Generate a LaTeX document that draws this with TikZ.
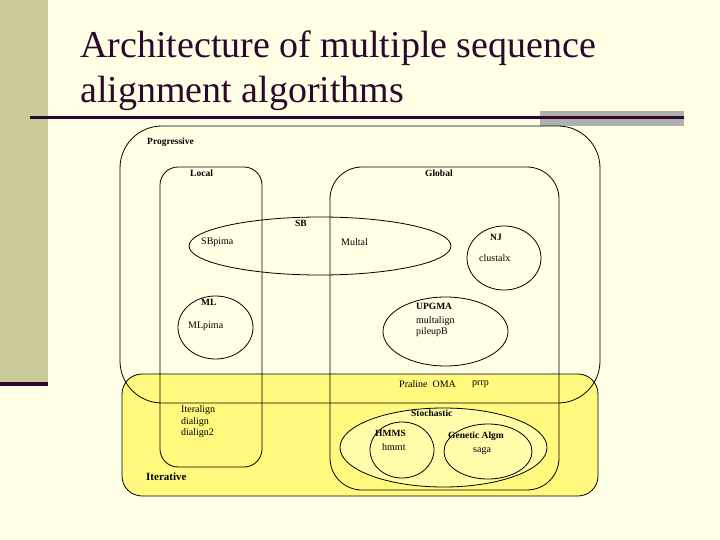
\documentclass[tikz,border=0pt]{standalone}
\usepackage{fontspec}
\setmainfont{Liberation Serif}
\usetikzlibrary{shapes.geometric}
\definecolor{bgc}{RGB}{255,255,229}
\definecolor{stripe}{RGB}{202,201,152}
\definecolor{darkplum}{RGB}{45,8,45}
\definecolor{graybar}{RGB}{176,176,176}
\definecolor{iterfill}{RGB}{255,250,125}
\definecolor{stochfill}{RGB}{255,253,170}
\begin{document}
\begin{tikzpicture}[x=1pt,y=-1pt,
  region/.style={draw=black, line width=0.8pt, rectangle, rounded corners=#1, inner sep=0},
  setshape/.style={draw=black, ellipse, line width=0.8pt, inner sep=0},
  lbl/.style={font=\fontsize{10}{11}\selectfont, anchor=west, inner sep=0},
  blbl/.style={font=\fontsize{9.5}{11}\selectfont\bfseries, anchor=west, inner sep=0},
  titlestyle/.style={font=\fontsize{38}{45}\selectfont, text=darkplum, anchor=base west, inner sep=0}
]
\fill[bgc] (0,0) rectangle (720,540);
\useasboundingbox (0,0) rectangle (720,540);
\fill[stripe] (0,0) rectangle (48,382);
\fill[darkplum] (0,382) rectangle (48,386);
\fill[graybar] (540,111) rectangle (684,126);
\fill[darkplum] (30,116) rectangle (684,119);
\node[titlestyle] (t1) at (80,58) {Architecture of multiple sequence};
\node[titlestyle] (t2) at (80,103) {alignment algorithms};

% regions
\node[region=20, fill=iterfill, minimum width=476, minimum height=122] (iter) at (360,435) {};
\node[region=42, minimum width=480, minimum height=277] (prog) at (360,264.5) {};
\node[region=18, minimum width=102, minimum height=300] (local) at (211,317) {};
\node[region=32, minimum width=229, minimum height=323] (global) at (444.5,328.5) {};

% sets
\node[setshape, minimum width=262, minimum height=58] (sb) at (320,246) {};
\node[setshape, minimum width=74, minimum height=64] (nj) at (504,258) {};
\node[setshape, minimum width=75, minimum height=63] (ml) at (215.5,327.5) {};
\node[setshape, minimum width=125, minimum height=69] (upgma) at (445.5,331.5) {};
\node[setshape, fill=stochfill, minimum width=207, minimum height=79] (stoch) at (443.5,447.5) {};
\node[setshape, fill=stochfill, minimum width=64, minimum height=56] (hmms) at (402,450) {};
\node[setshape, fill=stochfill, minimum width=88, minimum height=55] (ga) at (488,451.5) {};

% labels
\node[blbl] (lprog) at (147,142) {Progressive};
\node[blbl] (llocal) at (190,173) {Local};
\node[blbl] (lglobal) at (425,173) {Global};
\node[blbl] (lsb) at (295,223) {SB};
\node[lbl] (lsbpima) at (201,242) {SBpima};
\node[lbl] (lmultal) at (341,242) {Multal};
\node[blbl] (lnj) at (490,237) {NJ};
\node[lbl] (lclustalx) at (479,258) {clustalx};
\node[blbl] (lml) at (201,302) {ML};
\node[lbl] (lmlpima) at (188,326) {MLpima};
\node[blbl] (lupgma) at (416,306) {UPGMA};
\node[lbl] (lmultalign) at (416,321) {multalign};
\node[lbl] (lpileup) at (416,332) {pileupB};
\node[lbl] (lpraline) at (399,384) {Praline\ \ OMA};
\node[lbl] (lprrp) at (472,384) {prrp};
\node[lbl] (literalign) at (181,410) {Iteralign};
\node[lbl] (ldialign) at (181,422) {dialign};
\node[lbl] (ldialign2) at (181,433) {dialign2};
\node[blbl] (lstoch) at (411,413) {Stochastic};
\node[blbl] (lhmms) at (375,433) {HMMS};
\node[lbl] (lhmmt) at (382,447) {hmmt};
\node[blbl] (lga) at (448,436) {Genetic Algm};
\node[lbl] (lsaga) at (473,451) {saga};
\node[blbl, font=\fontsize{11}{12}\selectfont\bfseries] (literative) at (146,477) {Iterative};
\end{tikzpicture}
\end{document}
